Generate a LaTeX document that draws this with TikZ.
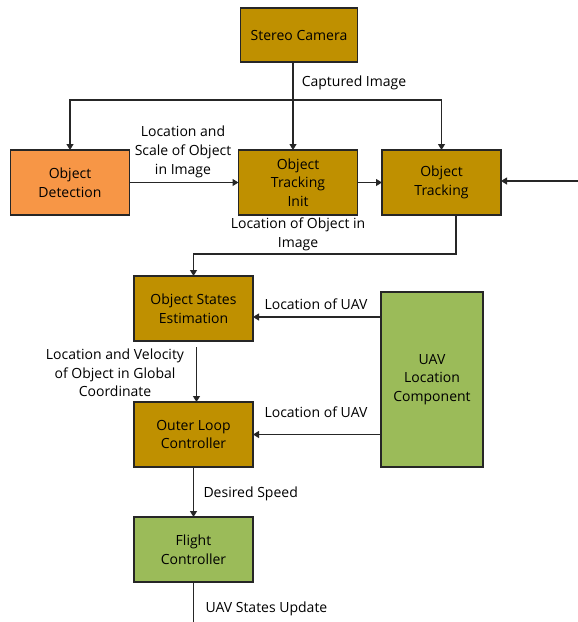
\documentclass[tikz,border=0pt]{standalone}
\usepackage{fontspec}
\setmainfont{Open Sans}
\usetikzlibrary{arrows.meta,positioning}
\definecolor{OcreBox}{RGB}{191,144,0}
\definecolor{OrangeBox}{RGB}{247,150,70}
\definecolor{GreenBox}{RGB}{155,187,89}

\begin{document}
\begin{tikzpicture}[x=1pt, y=-1pt, >={Triangle[length=6pt,width=7pt]},
    every node/.style={font=\fontsize{14}{18.7}\selectfont, align=center},
    bloque/.style={draw=black!85, line width=1.2pt, outer sep=0pt,
        minimum width=119pt, minimum height=65pt, inner sep=2pt},
    flecha/.style={->, line width=1.1pt, black!85}]
    \useasboundingbox (0,0) rectangle (578,622);

    \node[bloque, fill=OcreBox, minimum width=117pt, minimum height=54pt]
        (cam) at (299,35) {Stereo Camera};
    \node[bloque, fill=OrangeBox] (det)   at (70,182.5)  {Object\\Detection};
    \node[bloque, fill=OcreBox]   (init)  at (298,182.5) {Object\\Tracking\\Init};
    \node[bloque, fill=OcreBox]   (track) at (441.5,182.5) {Object\\Tracking};
    \node[bloque, fill=OcreBox]   (est)   at (193.5,308.5) {Object States\\Estimation};
    \node[bloque, fill=OcreBox]   (outer) at (193.5,434.5) {Outer Loop\\Controller};
    \node[bloque, fill=GreenBox]  (flight) at (193.5,549.5) {Flight\\Controller};
    \node[bloque, fill=GreenBox, minimum width=102pt, minimum height=175pt]
        (uav) at (432,379.5) {UAV\\Location\\Component};

    \coordinate (split)  at (293,100);
    \coordinate (extIn)  at (578,181);
    \coordinate (bend)   at (456,254);
    \coordinate (uavA)   at (381,317);
    \coordinate (outEnd) at (193.5,622);

    \draw[flecha, -] (cam.south -| split) -- (split);
    \draw[flecha] (split) -- (split |- init.north);
    \draw[flecha] (split) -| (det.north);
    \draw[flecha] (split) -| (track.north);
    \draw[flecha] (det.east) -- (init.west);
    \draw[flecha] (init.east) -- (track.west);
    \draw[flecha] (extIn) -- (track.east |- extIn);
    \draw[flecha] (track.south -| bend) -- (bend) -| (est.north);
    \draw[flecha] (uavA) -- (est.east |- uavA);
    \draw[flecha] (uav.west |- outer) -- (outer.east);
    \draw[flecha] ([xshift=3pt,yshift=-6pt]est.south) -- ([xshift=3pt]outer.north);
    \draw[flecha] (outer.south) -- (flight.north);
    \draw[flecha, -] (flight.south) -- (outEnd);

    \node (lblCap)   at (354,83)  {Captured Image};
    \node (lblScale) at (183,152) {Location and\\Scale of Object\\in Image};
    \node (lblObj)   at (298,234) {Location of Object in\\Image};
    \node (lblUavA)  at (316,304) {Location of UAV};
    \node (lblUavB)  at (316,412) {Location of UAV};
    \node (lblVel)   at (115,373) {Location and Velocity\\of Object in Global\\Coordinate};
    \node[anchor=west] (lblSpeed) at (200,494) {Desired Speed};
    \node[anchor=west] (lblUpd)   at (202,609) {UAV States Update};
\end{tikzpicture}
\end{document}
